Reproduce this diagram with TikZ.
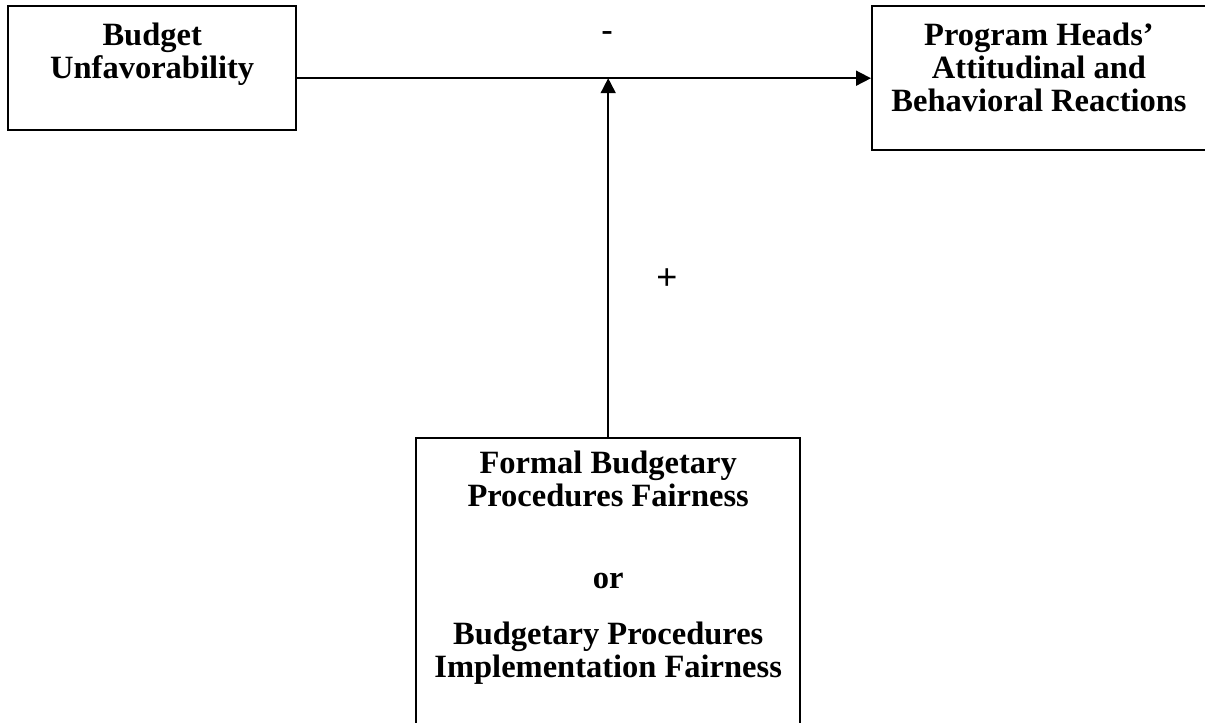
\documentclass[tikz,border=0pt]{standalone}
\usepackage{fontspec}
\setmainfont{Liberation Serif}
\newfontfamily\signfont{Liberation Sans}
\usetikzlibrary{positioning, arrows.meta}

\begin{document}
\begin{tikzpicture}[x=1pt, y=1pt,
	box/.style={rectangle, draw=black, line width=2.4pt, anchor=north west, inner sep=0pt},
	boxtext/.style={align=center, inner sep=0pt, font=\fontsize{32.5}{33}\selectfont\bfseries},
	sign/.style={inner sep=0pt, font=\signfont\fontsize{36}{36}\selectfont},
	arrow/.style={-{Triangle[length=15pt, width=15pt]}, line width=1.7pt}]
	\useasboundingbox (0,0) rectangle (1205,-723);
	% boxes
	\node[box, minimum width=288pt, minimum height=124pt] (budget) at (7,-5) {};
	\node[box, minimum width=360pt, minimum height=144pt] (reactions) at (871,-5) {};
	\node[box, minimum width=384pt, minimum height=300pt] (fairness) at (415,-437) {};
	\node[boxtext, below=18pt of budget.north] (budgettext) {Budget\\Unfavorability};
	\node[boxtext, anchor=north] (reactionstext) at ([xshift=168pt, yshift=-18pt]reactions.north west) {Program Heads’\\Attitudinal and\\Behavioral Reactions};
	\node[boxtext, below=14pt of fairness.north] (fairnesstext) {Formal Budgetary\\Procedures Fairness\\[49pt]or\\[23pt]Budgetary Procedures\\Implementation Fairness};
	% arrows
	\draw[arrow] (budget.east |- reactions.west) -- (reactions.west);
	\draw[arrow] (fairness.north) -- (fairness.north |- reactions.west);
	\node[sign] (minus) at (607,-37) {-};
	\node[sign] (plus) at (667,-279) {+};
\end{tikzpicture}
\end{document}
